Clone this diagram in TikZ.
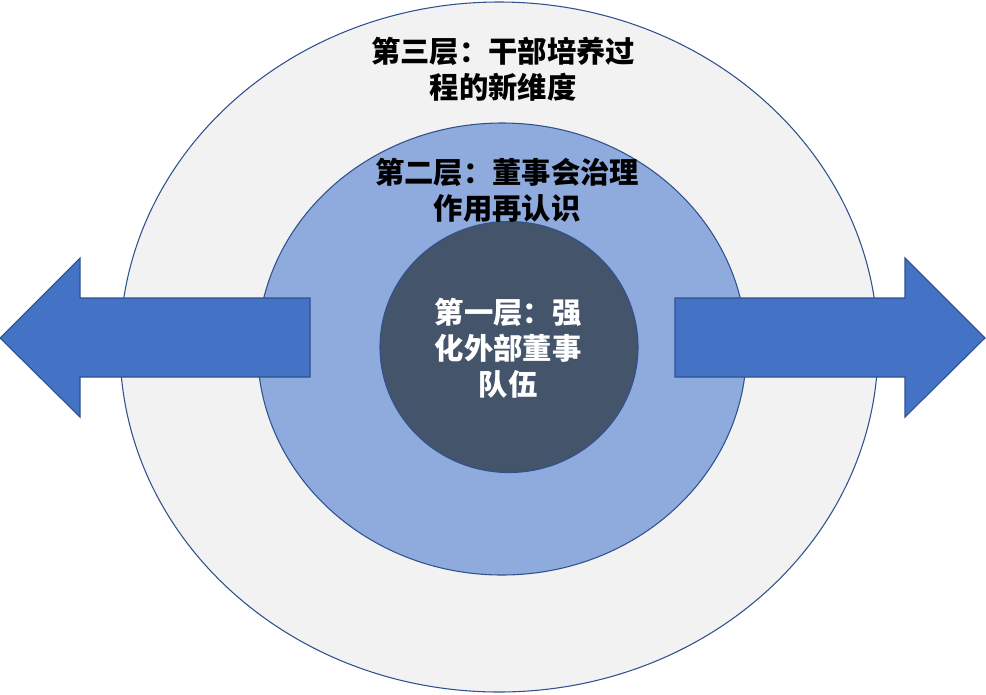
\documentclass[tikz,border=0pt]{standalone}
\usepackage{fontspec}
\newfontfamily\cjk{Noto Sans CJK SC}
\usepackage{tikz}
\usetikzlibrary{shapes.geometric}
\usetikzlibrary{positioning}
\definecolor{ringline}{RGB}{47,82,143}
\definecolor{outerfill}{RGB}{242,242,242}
\definecolor{midfill}{RGB}{143,170,220}
\definecolor{innerfill}{RGB}{68,84,106}
\definecolor{arrowfill}{RGB}{68,114,196}
\tikzset{
  ring/.style={ellipse,draw=ringline,line width=0.8pt,inner sep=0pt},
  layertext/.style={align=center,inner sep=0pt,font=\cjk\bfseries\fontsize{22}{27}\selectfont},
  bigarrow/.style={fill=arrowfill,draw=ringline,line width=0.8pt,line join=miter}
}
\begin{document}
\begin{tikzpicture}[x=0.75pt,y=0.75pt,yscale=-1,xscale=1]
\useasboundingbox (0,0) rectangle (986,694);

%Outer ring
\node [ring,fill=outerfill,minimum width=758*0.75pt,minimum height=690*0.75pt] (outer) at (499,347) {};
%Middle ring
\node [ring,fill=midfill,minimum width=489*0.75pt,minimum height=452*0.75pt] (middle) at (502,349) {};

%Left arrow
\draw [bigarrow] (0,338) -- (80,258) -- (80,298) -- (310,298) -- (310,377) -- (80,377) -- (80,417) -- cycle ;
%Right arrow
\draw [bigarrow] (985,338) -- (905,258) -- (905,298) -- (675,298) -- (675,377) -- (905,377) -- (905,417) -- cycle ;

%Inner ring
\node [ring,fill=innerfill,minimum width=258*0.75pt,minimum height=251*0.75pt] (inner) at (509,347) {};

% Text Node
\node [layertext] (third) at (503,69) {第三层：干部培养过\\程的新维度};
% Text Node
\node [layertext] (second) at (507,190) {第二层：董事会治理\\作用再认识};
% Text Node
\node [layertext,text=white] (first) at (508,348) {第一层：强\\化外部董事\\队伍};

\end{tikzpicture}
\end{document}
